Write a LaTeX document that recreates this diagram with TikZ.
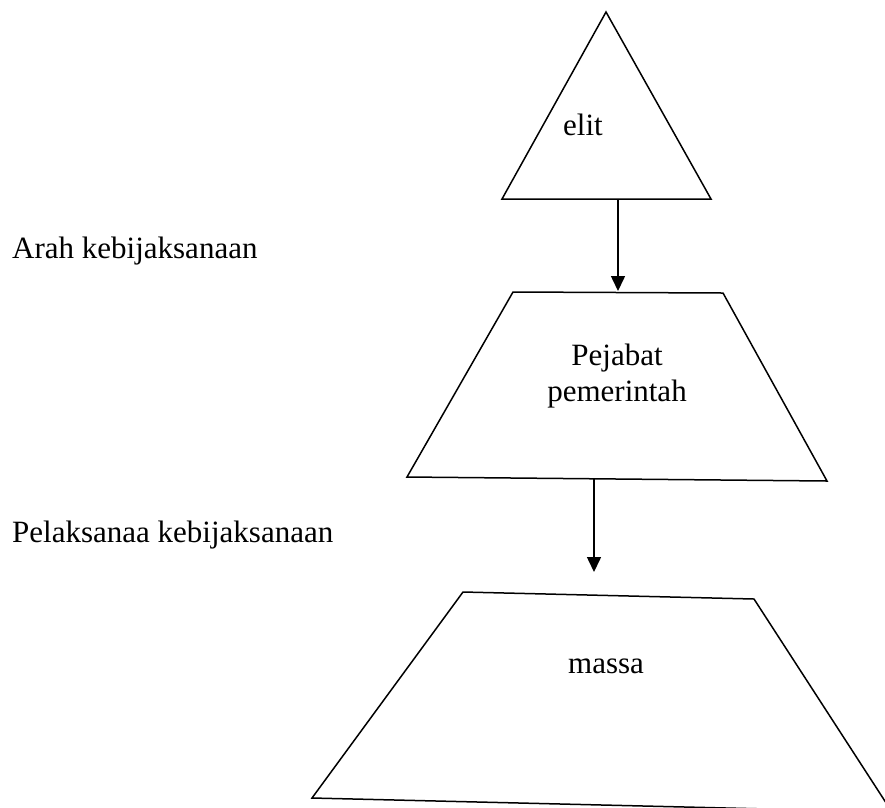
\documentclass[tikz,border=0pt]{standalone}
\usepackage{fontspec}
\setmainfont{Liberation Serif}
\usetikzlibrary{arrows.meta}
\begin{document}
\begin{tikzpicture}[x=1pt,y=-1pt,
  shapeline/.style={draw=black,line width=1.5pt,line join=miter},
  flow/.style={draw=black,line width=1.5pt,-{Triangle[width=14pt,length=15pt]}},
  label/.style={inner sep=0pt,font=\fontsize{31}{36}\selectfont}]
% page frame
\clip (0,0) rectangle (885,807);
\fill[white] (0,0) rectangle (885,807);

% top: elite triangle
\draw[shapeline] (606,12) -- (711,199) -- (502,199) -- cycle;
\node[label,anchor=base] (elit) at (583,135) {elit};

% middle: government officials
\draw[shapeline] (513,292) -- (723,293) -- (827,481) -- (407,477) -- cycle;
\node[label,anchor=base] (pejabat) at (617,365) {Pejabat};
\node[label,anchor=base] (pemerintah) at (617,401) {pemerintah};

% bottom: the mass
\draw[shapeline] (463,592) -- (754,599) -- (892,812) -- (312,798) -- cycle;
\node[label,anchor=base west] (massa) at (568,673) {massa};

% side captions
\node[label,anchor=base west] (arah) at (12,258) {Arah kebijaksanaan};
\node[label,anchor=base west] (pelaksanaan) at (12,542) {Pelaksanaa kebijaksanaan};

% connector end points
\coordinate (a1s) at (618,199);
\coordinate (a1e) at (618,291);
\coordinate (a2s) at (594,478);
\coordinate (a2e) at (594,572);
\draw[flow] (a1s) -- (a1e);
\draw[flow] (a2s) -- (a2e);
\end{tikzpicture}
\end{document}
